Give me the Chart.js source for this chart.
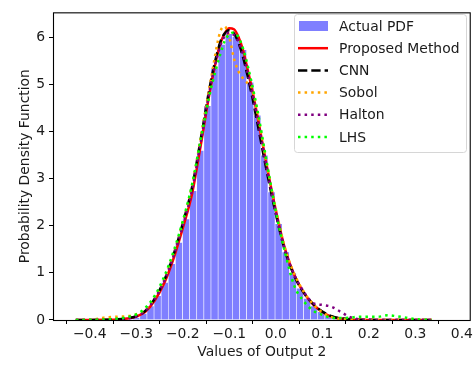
<!DOCTYPE html>
<html>
<head>
<meta charset="utf-8">
<script src="https://cdn.jsdelivr.net/npm/chart.js@4.4.1/dist/chart.umd.min.js"></script>
<style>
  html, body { margin: 0; padding: 0; background: #fff; }
  #wrap { width: 475px; height: 365px; }
</style>
</head>
<body>
<div id="wrap"><canvas id="pdf_chart" width="475" height="365"></canvas></div>
<script>
// histogram bins (centres) and densities
var binCenters = [-0.4224, -0.4071, -0.3918, -0.3765, -0.3612, -0.3459, -0.3306, -0.3153, -0.3000, -0.2847,
  -0.2694, -0.2541, -0.2388, -0.2235, -0.2082, -0.1929, -0.1776, -0.1623, -0.1470, -0.1317,
  -0.1164, -0.1011, -0.0858, -0.0705, -0.0552, -0.0399, -0.0246, -0.0093, 0.0060, 0.0213,
  0.0366, 0.0519, 0.0672, 0.0825, 0.0978, 0.1131, 0.1284, 0.1437, 0.1590, 0.1743,
  0.1896, 0.2049, 0.2202, 0.2355, 0.2508, 0.2661, 0.2814, 0.2967, 0.3120, 0.3273]
var histValues = [0.003, 0, 0.003, 0.006, 0.006, 0.01, 0.015, 0.03, 0.06, 0.14,
  0.3, 0.52, 0.8, 1.2, 1.65, 2.15, 2.75, 3.6, 4.55, 5.35,
  5.85, 6.08, 6.02, 5.74, 5.05, 4.35, 3.5, 2.72, 2.05, 1.45,
  1.0, 0.68, 0.46, 0.3, 0.18, 0.1, 0.055, 0.03, 0.015, 0.008,
  0.005, 0.003, 0.002, 0.002, 0.001, 0.001, 0.001, 0, 0, 0.001]

// estimated density curves
var xGrid = [-0.43, -0.40, -0.37, -0.34, -0.32, -0.30, -0.28, -0.26, -0.24, -0.22,
  -0.20, -0.18, -0.16, -0.14, -0.12, -0.11, -0.10, -0.09, -0.08, -0.07,
  -0.06, -0.05, -0.04, -0.02, 0.00, 0.02, 0.04, 0.06, 0.08, 0.10,
  0.12, 0.14, 0.16, 0.18, 0.20, 0.22, 0.24, 0.26, 0.28, 0.30, 0.335]
var proposed = [0, 0.002, 0.005, 0.012, 0.03, 0.07, 0.18, 0.42, 0.78, 1.3,
  1.95, 2.68, 3.79, 4.95, 5.85, 6.08, 6.19, 6.17, 6.0, 5.71,
  5.29, 4.85, 4.35, 3.3, 2.33, 1.5, 0.95, 0.58, 0.33, 0.17,
  0.07, 0.03, 0.012, 0.005, 0.002, 0.001, 0.001, 0, 0, 0, 0]
var cnn = [0, 0.002, 0.006, 0.015, 0.035, 0.08, 0.2, 0.46, 0.84, 1.38,
  2.05, 2.82, 3.92, 5.05, 5.88, 6.08, 6.15, 6.08, 5.88, 5.56,
  5.15, 4.7, 4.2, 3.18, 2.25, 1.46, 0.93, 0.58, 0.34, 0.18,
  0.08, 0.035, 0.015, 0.006, 0.003, 0.001, 0, 0, 0, 0, 0]
var sobol = [0, 0.003, 0.05, 0.07, 0.08, 0.12, 0.22, 0.47, 0.85, 1.4,
  2.05, 2.85, 3.95, 5.08, 6.1, 6.23, 6.0, 5.55, 5.27, 5.12,
  5.02, 4.88, 4.42, 3.33, 2.35, 1.52, 0.97, 0.6, 0.34, 0.16,
  0.06, 0.02, 0.01, 0.005, 0.002, 0, 0, 0, 0, 0, 0]
var halton = [0, 0.002, 0.006, 0.015, 0.035, 0.08, 0.2, 0.45, 0.82, 1.35,
  2.0, 2.75, 3.85, 4.98, 5.8, 6.02, 6.1, 6.05, 5.9, 5.62,
  5.22, 4.78, 4.3, 3.25, 2.28, 1.48, 0.95, 0.6, 0.36, 0.32,
  0.28, 0.17, 0.06, 0.012, 0.003, 0, 0, 0, 0, 0, 0]
var lhs = [0, 0.003, 0.01, 0.03, 0.06, 0.12, 0.26, 0.52, 0.92, 1.45,
  2.1, 2.88, 3.9, 4.88, 5.62, 5.92, 6.06, 6.1, 6.0, 5.75,
  5.38, 4.95, 4.48, 3.38, 2.3, 1.42, 0.72, 0.4, 0.2, 0.11,
  0.05, 0.04, 0.05, 0.07, 0.07, 0.07, 0.1, 0.08, 0.05, 0.02, 0]

var FONT = {family: '"DejaVu Sans", sans-serif', size: 13.9}
var TEXT = '#1a1a1a'

function pts(ys) {
  return xGrid.map((x, i) => ({x: x, y: ys[i]}))
}

function curve(label, ys, color, dash, order) {
  return {
    type: 'line',
    label: label,
    data: pts(ys),
    borderColor: color,
    backgroundColor: color,
    borderWidth: 2.5,
    borderDash: dash,
    borderCapStyle: 'butt',
    pointRadius: 0,
    cubicInterpolationMode: 'monotone',
    fill: false,
    order: order
  }
}

var DASHED = [9.3, 4]
var DOTTED = [2.5, 4.1]

// matplotlib-like legend box in the upper right of the axes
var legendBox = {
  id: 'legendBox',
  afterDraw(chart) {
    var ctx = chart.ctx
    var x0 = 294, y0 = 14, w = 172, h = 138
    ctx.save()
    ctx.beginPath()
    ctx.roundRect(x0 + 0.5, y0 + 0.5, w, h, 3)
    ctx.fillStyle = 'rgba(255,255,255,0.8)'
    ctx.fill()
    ctx.strokeStyle = '#d6d6d6'
    ctx.lineWidth = 1
    ctx.stroke()
    ctx.font = '13.9px "DejaVu Sans", sans-serif'
    ctx.textBaseline = 'middle'
    ctx.fillStyle = TEXT
    chart.data.datasets.forEach((ds, i) => {
      var cy = 26 + i * 22.2
      if (ds.type === 'line') {
        ctx.beginPath()
        ctx.setLineDash(ds.borderDash || [])
        ctx.strokeStyle = ds.borderColor
        ctx.lineWidth = ds.borderWidth
        ctx.moveTo(298, cy)
        ctx.lineTo(328, cy)
        ctx.stroke()
        ctx.setLineDash([])
      } else {
        ctx.fillStyle = ds.backgroundColor
        ctx.fillRect(299, cy - 5, 29, 10)
      }
      ctx.fillStyle = TEXT
      ctx.fillText(ds.label, 339, cy + 1)
    })
    ctx.restore()
  }
}

// four spines
var frame = {
  id: 'frame',
  afterDatasetsDraw(chart) {
    var a = chart.chartArea, ctx = chart.ctx
    ctx.save()
    ctx.strokeStyle = '#000'
    ctx.lineWidth = 1.1
    ctx.strokeRect(a.left + 0.5, a.top + 0.5, a.right - a.left - 1, a.bottom - a.top)
    ctx.restore()
  }
}

function fmtX(v) {
  if (Math.abs(v) < 1e-9) return '0.0'
  return v.toFixed(1).replace('-', '\u2212')
}

var config = {
  type: 'bar',
  data: {
    datasets: [
      {
        type: 'bar',
        label: 'Actual PDF',
        data: binCenters.map((x, i) => ({x: x, y: histValues[i]})),
        backgroundColor: 'rgba(0,0,255,0.5)',
        borderColor: '#ffffff',
        borderWidth: {left: 0.6, right: 0.6, top: 0.8, bottom: 0},
        borderSkipped: false,
        barPercentage: 1.0,
        categoryPercentage: 1.0,
        order: 6
      },
      curve('Proposed Method', proposed, '#ff0000', [], 5),
      curve('CNN', cnn, '#000000', DASHED, 4),
      curve('Sobol', sobol, '#ffa500', DOTTED, 3),
      curve('Halton', halton, '#800080', DOTTED, 2),
      curve('LHS', lhs, '#00ff00', DOTTED, 1)
    ]
  },
  options: {
    responsive: false,
    animation: false,
    devicePixelRatio: 1,
    layout: {padding: {top: 7, right: 3, left: 0, bottom: 0}},
    plugins: {
      legend: {display: false},
      tooltip: {enabled: false}
    },
    scales: {
      x: {
        type: 'linear',
        min: -0.479,
        max: 0.419,
        offset: false,
        grid: {drawOnChartArea: false, drawTicks: true, tickLength: 4, color: '#000', tickWidth: 1},
        border: {display: false},
        ticks: {
          stepSize: 0.1, includeBounds: false, autoSkip: false, maxRotation: 0,
          padding: 2, font: FONT, color: TEXT, callback: v => fmtX(v)
        },
        title: {display: true, text: 'Values of Output 2', font: FONT, color: TEXT, padding: {top: 0, bottom: 4}},
        afterFit: s => { s.height = 45 }
      },
      y: {
        type: 'linear',
        min: 0,
        max: 6.53,
        grid: {drawOnChartArea: false, drawTicks: true, tickLength: 4, color: '#000', tickWidth: 1},
        border: {display: false},
        ticks: {
          stepSize: 1, includeBounds: false, padding: 4, font: FONT, color: TEXT,
          callback: v => String(Math.round(v))
        },
        title: {display: true, text: 'Probability Density Function', font: FONT, color: TEXT, padding: {top: 16.7, bottom: 0}},
        afterFit: s => { s.width = 53 }
      }
    }
  },
  plugins: [frame, legendBox]
}

var myChart = new Chart(document.getElementById('pdf_chart'), config)
</script>
</body>
</html>
